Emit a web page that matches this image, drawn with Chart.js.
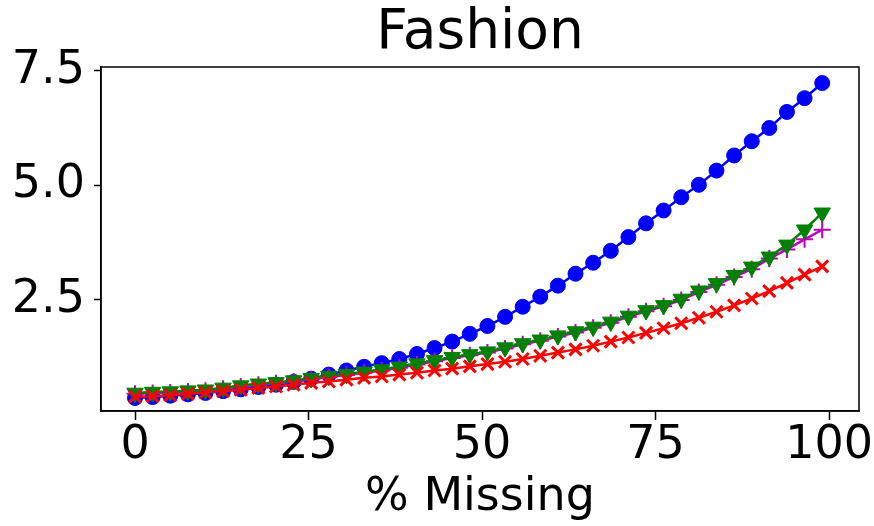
<!DOCTYPE html>
<html>
<head>
<meta charset="utf-8">
<title>Fashion</title>
<script src="https://cdn.jsdelivr.net/npm/chart.js@4.4.1/dist/chart.umd.min.js"></script>
<style>
  body { margin: 0; background: #fff; }
  canvas { display: block; }
</style>
</head>
<body>
<canvas id="chart" width="874" height="526"></canvas>
<script>
// % missing (x positions of the points)
const missing = [0, 2.54, 5.08, 7.62, 10.15, 12.69, 15.23, 17.77, 20.31, 22.85,
  25.38, 27.92, 30.46, 33, 35.54, 38.08, 40.62, 43.15, 45.69, 48.23,
  50.77, 53.31, 55.85, 58.38, 60.92, 63.46, 66, 68.54, 71.08, 73.62,
  76.15, 78.69, 81.23, 83.77, 86.31, 88.85, 91.38, 93.92, 96.46, 99]

const blueVals = [0.36, 0.38, 0.41, 0.44, 0.47, 0.51, 0.55, 0.60, 0.65, 0.71,
  0.78, 0.87, 0.96, 1.04, 1.12, 1.21, 1.32, 1.45, 1.59, 1.76,
  1.93, 2.13, 2.35, 2.57, 2.81, 3.07, 3.31, 3.57, 3.87, 4.17,
  4.45, 4.74, 5.01, 5.32, 5.65, 5.96, 6.25, 6.60, 6.90, 7.23]

const magentaVals = [0.45, 0.47, 0.48, 0.50, 0.52, 0.56, 0.61, 0.65, 0.68, 0.72,
  0.77, 0.82, 0.86, 0.91, 0.96, 1.02, 1.09, 1.16, 1.23, 1.29,
  1.35, 1.44, 1.53, 1.61, 1.70, 1.79, 1.89, 2.00, 2.13, 2.25,
  2.36, 2.50, 2.67, 2.83, 3.00, 3.17, 3.40, 3.60, 3.82, 4.03]

const greenVals = [0.47, 0.49, 0.50, 0.52, 0.54, 0.58, 0.63, 0.67, 0.70, 0.74,
  0.79, 0.84, 0.88, 0.93, 0.98, 1.04, 1.11, 1.18, 1.25, 1.31,
  1.37, 1.46, 1.55, 1.63, 1.72, 1.81, 1.91, 2.02, 2.15, 2.27,
  2.38, 2.52, 2.70, 2.86, 3.04, 3.22, 3.44, 3.70, 4.03, 4.40]

const redVals = [0.39, 0.40, 0.42, 0.45, 0.48, 0.51, 0.54, 0.58, 0.61, 0.65,
  0.69, 0.72, 0.76, 0.80, 0.83, 0.87, 0.91, 0.96, 1.00, 1.05,
  1.10, 1.15, 1.21, 1.28, 1.35, 1.42, 1.50, 1.59, 1.68, 1.78,
  1.88, 1.99, 2.11, 2.24, 2.38, 2.53, 2.69, 2.87, 3.05, 3.23]

const xTicks = [0, 25, 50, 75, 100]
const yTicks = [2.5, 5.0, 7.5]

function points(vals) {
  return vals.map((v, i) => ({ x: missing[i], y: v }))
}

// box round the plot area, like matplotlib
const frame = {
  id: 'frame',
  afterDraw(chart) {
    const a = chart.chartArea
    const ctx = chart.ctx
    ctx.save()
    ctx.strokeStyle = '#000'
    ctx.lineWidth = 1.5
    ctx.strokeRect(a.left, a.top, a.right - a.left, a.bottom - a.top)
    ctx.restore()
  }
}

const font = 'DejaVu Sans'

new Chart(document.getElementById('chart'), {
  type: 'line',
  data: {
    datasets: [
      {
        data: points(blueVals), order: 4,
        borderColor: '#0000ff', backgroundColor: '#0000ff', borderWidth: 2.5,
        pointStyle: 'circle', pointRadius: 7.5, pointBorderWidth: 1
      },
      {
        data: points(magentaVals), order: 3,
        borderColor: '#bf00bf', backgroundColor: '#bf00bf', borderWidth: 2.5,
        pointStyle: 'cross', pointRadius: 8.5, pointBorderWidth: 2
      },
      {
        data: points(greenVals), order: 2,
        borderColor: '#008000', backgroundColor: '#008000', borderWidth: 2.5,
        pointStyle: 'triangle', pointRotation: 180, pointRadius: 9.5, pointBorderWidth: 1
      },
      {
        data: points(redVals), order: 1,
        borderColor: '#ff0000', backgroundColor: '#ff0000', borderWidth: 2.5,
        pointStyle: 'crossRot', pointRadius: 8.5, pointBorderWidth: 3
      }
    ]
  },
  options: {
    responsive: false,
    animation: false,
    layout: { padding: { left: 0, right: 15, top: 0, bottom: 0 } },
    plugins: {
      legend: { display: false },
      tooltip: { enabled: false },
      title: {
        display: true,
        fullSize: false,
        text: 'Fashion',
        color: '#000',
        font: { family: font, size: 55, weight: 'normal', lineHeight: 1.2 },
        padding: { top: 1, bottom: 0 }
      }
    },
    scales: {
      x: {
        type: 'linear',
        min: -4.9,
        max: 104.3,
        afterBuildTicks: (s) => { s.ticks = xTicks.map(v => ({ value: v })) },
        afterFit: (s) => { s.height = 115 },
        ticks: {
          color: '#000',
          font: { family: font, size: 46 },
          padding: -2,
          maxRotation: 0,
          callback: (v) => String(v)
        },
        grid: { drawOnChartArea: false, color: '#000', tickLength: 9, tickWidth: 1.5 },
        border: { color: '#000', width: 1.5 },
        title: {
          display: true,
          text: '% Missing',
          color: '#000',
          font: { family: font, size: 46, lineHeight: 1.2 },
          padding: { top: 0, bottom: 0 }
        }
      },
      y: {
        type: 'linear',
        min: 0.076,
        max: 7.58,
        afterBuildTicks: (s) => { s.ticks = yTicks.map(v => ({ value: v })) },
        afterFit: (s) => { s.width = 101 },
        ticks: {
          color: '#000',
          font: { family: font, size: 46 },
          padding: 9,
          callback: (v) => v.toFixed(1)
        },
        grid: { drawOnChartArea: false, color: '#000', tickLength: 7, tickWidth: 1.5 },
        border: { color: '#000', width: 1.5 }
      }
    }
  },
  plugins: [frame]
})
</script>
</body>
</html>
